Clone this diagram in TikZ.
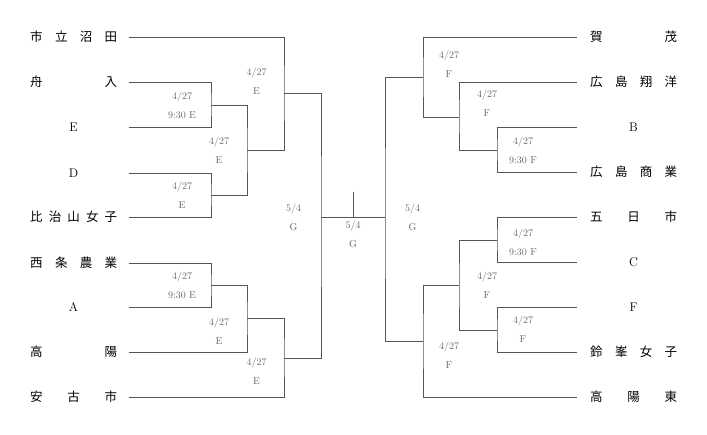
\documentclass[tikz,border=0pt]{standalone}
\usepackage{fontspec}
\newfontfamily\cjk{Noto Sans CJK JP}
\definecolor{linec}{HTML}{555555}
\definecolor{datec}{HTML}{666666}
\tikzset{
  br/.style={draw=linec, line width=0.9pt},
  team/.style={inner sep=0pt, font=\fontsize{12.5}{14}\selectfont, text=black},
  date/.style={inner sep=0pt, align=center, font=\fontsize{10}{19}\selectfont, text=datec},
}
\newcommand{\jn}[1]{\makebox[87pt][s]{\cjk #1}}
\begin{document}
\begin{tikzpicture}[x=1pt,y=-1pt]
\useasboundingbox (0,0) rectangle (707,435);
% team names left
\node[team, anchor=west] (t1) at (30,37) {\jn{市\hfill 立\hfill 沼\hfill 田}};
\node[team, anchor=west] (t2) at (30,82) {\jn{舟\hfill 入}};
\node[team] (t3) at (73.5,127) {E};
\node[team] (t4) at (73.5,173) {D};
\node[team, anchor=west] (t5) at (30,217) {\jn{比\hfill 治\hfill 山\hfill 女\hfill 子}};
\node[team, anchor=west] (t6) at (30,263) {\jn{西\hfill 条\hfill 農\hfill 業}};
\node[team] (t7) at (73.5,307) {A};
\node[team, anchor=west] (t8) at (30,352) {\jn{高\hfill 陽}};
\node[team, anchor=west] (t9) at (30,397) {\jn{安\hfill 古\hfill 市}};
% team names right
\node[team, anchor=west] (u1) at (590,37) {\jn{賀\hfill 茂}};
\node[team, anchor=west] (u2) at (590,82) {\jn{広\hfill 島\hfill 翔\hfill 洋}};
\node[team] (u3) at (633.5,127) {B};
\node[team, anchor=west] (u4) at (590,172) {\jn{広\hfill 島\hfill 商\hfill 業}};
\node[team, anchor=west] (u5) at (590,217) {\jn{五\hfill 日\hfill 市}};
\node[team] (u6) at (633.5,262) {C};
\node[team] (u7) at (633.5,307) {F};
\node[team, anchor=west] (u8) at (590,352) {\jn{鈴\hfill 峯\hfill 女\hfill 子}};
\node[team, anchor=west] (u9) at (590,397) {\jn{高\hfill 陽\hfill 東}};
% line starts
\coordinate (L1) at (129,37);
\coordinate (L2) at (129,82);
\coordinate (L3) at (129,127);
\coordinate (L4) at (129,173);
\coordinate (L5) at (129,217);
\coordinate (L6) at (129,263);
\coordinate (L7) at (129,307);
\coordinate (L8) at (129,352);
\coordinate (L9) at (129,397);
\coordinate (R1) at (577,37);
\coordinate (R2) at (577,82);
\coordinate (R3) at (577,127);
\coordinate (R4) at (577,172);
\coordinate (R5) at (577,217);
\coordinate (R6) at (577,262);
\coordinate (R7) at (577,307);
\coordinate (R8) at (577,352);
\coordinate (R9) at (577,397);
% junctions
\coordinate (m1) at (211,105);
\coordinate (m2) at (211,195);
\coordinate (m3) at (247,150);
\coordinate (m4) at (284,93);
\coordinate (m5) at (211,285);
\coordinate (m6) at (247,318);
\coordinate (m7) at (284,358);
\coordinate (SL) at (321,217);
\coordinate (n1) at (497,150);
\coordinate (n2) at (459,117);
\coordinate (n3) at (423,77);
\coordinate (n4) at (497,240);
\coordinate (n5) at (497,330);
\coordinate (n6) at (459,285);
\coordinate (n7) at (423,341);
\coordinate (SR) at (385,217);
\coordinate (CT) at (353,192);
\coordinate (CB) at (353,217);
% left bracket
\draw[br] (L2) -| (m1) |- (L3);
\draw[br] (L4) -| (m2) |- (L5);
\draw[br] (m1) -| (m3) |- (m2);
\draw[br] (L1) -| (m4) |- (m3);
\draw[br] (L6) -| (m5) |- (L7);
\draw[br] (m5) -| (m6) |- (L8);
\draw[br] (m6) -| (m7) |- (L9);
\draw[br] (m4) -| (SL) |- (m7);
% right bracket
\draw[br] (R3) -| (n1) |- (R4);
\draw[br] (R2) -| (n2) |- (n1);
\draw[br] (R1) -| (n3) |- (n2);
\draw[br] (R5) -| (n4) |- (R6);
\draw[br] (R7) -| (n5) |- (R8);
\draw[br] (n4) -| (n6) |- (n5);
\draw[br] (n6) -| (n7) |- (R9);
\draw[br] (n3) -| (SR) |- (n7);
% final
\draw[br] (SL) -- (SR);
\draw[br] (CT) -- (CB);
% dates left
\node[date] (d1) at (182,105.5) {4/27\\9:30 E};
\node[date] (d2) at (182,195) {4/27\\E};
\node[date] (d3) at (219,150) {4/27\\E};
\node[date] (d4) at (256.5,81.5) {4/27\\E};
\node[date] (d5) at (182,285.5) {4/27\\9:30 E};
\node[date] (d6) at (219,331.5) {4/27\\E};
\node[date] (d7) at (256.5,371.5) {4/27\\E};
\node[date] (d8) at (293.5,217.5) {5/4\\G};
% dates right
\node[date] (e1) at (523,150) {4/27\\9:30 F};
\node[date] (e2) at (487,103.5) {4/27\\F};
\node[date] (e3) at (449,64.5) {4/27\\F};
\node[date] (e4) at (523,242.5) {4/27\\9:30 F};
\node[date] (e5) at (523,329) {4/27\\F};
\node[date] (e6) at (487,285.5) {4/27\\F};
\node[date] (e7) at (449,355) {4/27\\F};
\node[date] (e8) at (412.5,217.5) {5/4\\G};
% centre
\node[date] (c1) at (353,234.5) {5/4\\G};
\end{tikzpicture}
\end{document}
